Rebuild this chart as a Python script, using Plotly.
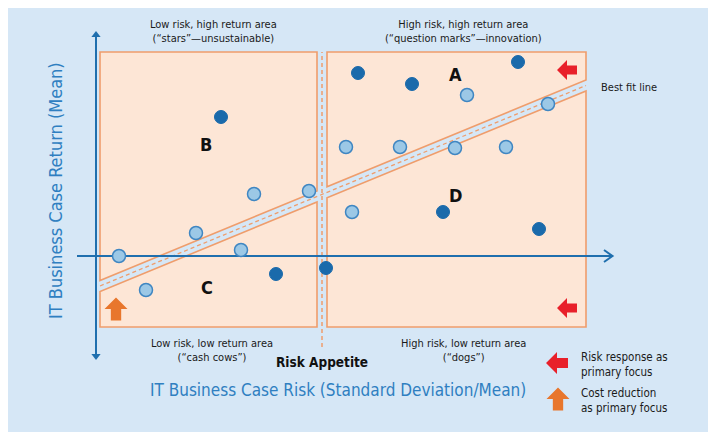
import plotly.graph_objects as go

# values; origin where the two axes cross
dark_risk = [125, 180, 230, 262, 316, 422, 347, 443]
dark_return = [139, -18, -12, 183, 172, 194, 44, 27]

light_risk = [158, 213, 100, 145, 23, 50, 371, 452, 250, 304, 359, 410, 256]
light_return = [62, 65, 23, 6, 0, -34, 161, 152, 109, 109, 108, 109, 44]

fit_risk = [4, 490]
fit_return = [-30, 170.5]

risk_appetite = 226

quadrant_labels = [
    "Low risk, high return area<br>(\u201cstars\u201d\u2014unsustainable)",
    "High risk, high return area<br>(\u201cquestion marks\u201d\u2014innovation)",
    "Low risk, low return area<br>(\u201ccash cows\u201d)",
    "High risk, low return area<br>(\u201cdogs\u201d)",
]
group_letters = ["A", "B", "C", "D"]
group_risk = [359, 110, 111, 359]
group_return = [182, 112, -31, 61]

legend_labels = ["Risk response as<br>primary focus", "Cost reduction<br>as primary focus"]

BG = "#d6e7f6"
PEACH = "#fde6d6"
ORANGE = "#ef9d6c"
AXIS_BLUE = "#1f6fae"
DARK = "#1a6aab"
LIGHT = "#9cc8e6"
LIGHT_EDGE = "#3f86c2"
RED = "#e8202a"
ARROW_ORANGE = "#e8762c"
TEXT = "#1a1a1a"
FONT = "Liberation Sans Narrow, DejaVu Sans Condensed, Roboto, sans-serif"

# panel extents (left panel, right panel) and half width of the best fit band
panel_x = [(4, 221), (231, 490)]
panel_bottom, panel_top = -71, 204
half = 5.5


def fit_at(x):
    slope = (fit_return[1] - fit_return[0]) / (fit_risk[1] - fit_risk[0])
    return fit_return[0] + slope * (x - fit_risk[0])


def poly(pts):
    return "M " + " L ".join(f"{x},{y}" for x, y in pts) + " Z"


def block_arrow(cx, cy, size, direction):
    # block arrow path pointing left or up
    h = size / 2
    pts = [(-h, 0), (0, h), (0, h * 0.45), (h, h * 0.45), (h, -h * 0.45), (0, -h * 0.45), (0, -h)]
    if direction == "up":
        pts = [(-y, -x) for x, y in pts]
    return poly([(cx + x, cy + y) for x, y in pts])


fig = go.Figure()

fig.add_trace(go.Scatter(x=fit_risk, y=fit_return, mode="lines",
                         line=dict(color=ORANGE, width=1.3, dash="4px,3px"), hoverinfo="skip"))

# axes
fig.add_trace(go.Scatter(x=[0, 0], y=[219, -98], mode="lines", line=dict(color=AXIS_BLUE, width=2), hoverinfo="skip"))
fig.add_trace(go.Scatter(x=[0, 0], y=[221, -100], mode="markers",
                         marker=dict(symbol=["triangle-up", "triangle-down"], size=8, color=AXIS_BLUE),
                         hoverinfo="skip"))
fig.add_trace(go.Scatter(x=[-19, 516], y=[0, 0], mode="lines", line=dict(color=AXIS_BLUE, width=2), hoverinfo="skip"))
fig.add_trace(go.Scatter(x=[508, 516.5, 508], y=[6, 0, -6], mode="lines",
                         line=dict(color=AXIS_BLUE, width=2), hoverinfo="skip"))

fig.add_trace(go.Scatter(x=light_risk, y=light_return, mode="markers",
                         marker=dict(size=13, color=LIGHT, line=dict(color=LIGHT_EDGE, width=1.5))))
fig.add_trace(go.Scatter(x=dark_risk, y=dark_return, mode="markers",
                         marker=dict(size=13, color=DARK, line=dict(color=DARK, width=1))))

shapes = [
    dict(type="rect", x0=-91, x1=616, y0=-176, y1=249, fillcolor=BG, line=dict(width=0), layer="below"),
    dict(type="line", x0=-91, x1=616, y0=251, y1=251, line=dict(color="#f6d9c4", width=2), layer="below"),
]
# each panel is split by the band into an upper and a lower piece
for x0, x1 in panel_x:
    upper = [(x0, fit_at(x0) + half), (x0, panel_top), (x1, panel_top), (x1, fit_at(x1) + half)]
    lower = [(x0, panel_bottom), (x0, fit_at(x0) - half), (x1, fit_at(x1) - half), (x1, panel_bottom)]
    for pts in (upper, lower):
        shapes.append(dict(type="path", path=poly(pts), fillcolor=PEACH,
                           line=dict(color=ORANGE, width=1.6), layer="below"))
shapes += [
    dict(type="line", x0=risk_appetite, x1=risk_appetite, y0=-91, y1=panel_top,
         line=dict(color=ORANGE, width=1.5, dash="4px,3px"), layer="below"),
    dict(type="path", path=block_arrow(471, 186, 20, "left"), fillcolor=RED, line=dict(width=0)),
    dict(type="path", path=block_arrow(471, -52, 20, "left"), fillcolor=RED, line=dict(width=0)),
    dict(type="path", path=block_arrow(461, -107, 22, "left"), fillcolor=RED, line=dict(width=0)),
    dict(type="path", path=block_arrow(20, -53, 23, "up"), fillcolor=ARROW_ORANGE, line=dict(width=0)),
    dict(type="path", path=block_arrow(462, -143, 23, "up"), fillcolor=ARROW_ORANGE, line=dict(width=0)),
]

label_pos = [(117, 225), (367, 225), (116, -94), (367, -94)]
annotations = []
for text, (x, y) in zip(quadrant_labels, label_pos):
    annotations.append(dict(x=x, y=y, text=text, showarrow=False, font=dict(family=FONT, size=11, color=TEXT)))
for letter, x, y in zip(group_letters, group_risk, group_return):
    annotations.append(dict(x=x, y=y, text=f"<b>{letter}</b>", showarrow=False, font=dict(family=FONT, size=18, color="#111111")))
annotations += [
    dict(x=risk_appetite, y=-106, text="<b>Risk Appetite</b>", showarrow=False, font=dict(family=FONT, size=13.5, color="#111111")),
    dict(x=503, y=169, text="Best fit line", xanchor="left", showarrow=False, font=dict(family=FONT, size=11, color=TEXT)),
    dict(x=242, y=-134, text="IT Business Case Risk (Standard Deviation/Mean)", showarrow=False,
         font=dict(family=FONT, size=17, color="#2f7fc1")),
    dict(x=-41, y=65, text="IT Business Case Return (Mean)", textangle=-90, showarrow=False,
         font=dict(family=FONT, size=18, color="#2f7fc1")),
    dict(x=483, y=-108, text=legend_labels[0], xanchor="left", align="left", showarrow=False,
         font=dict(family=FONT, size=11.5, color=TEXT)),
    dict(x=483, y=-144, text=legend_labels[1], xanchor="left", align="left", showarrow=False,
         font=dict(family=FONT, size=11.5, color=TEXT)),
]

# the page body has an 8px margin, so the figure is 8px smaller and the ranges start 8px in
fig.update_layout(
    width=708, height=428,
    margin=dict(l=0, r=0, t=0, b=0),
    paper_bgcolor="white", plot_bgcolor="white",
    showlegend=False,
    shapes=shapes, annotations=annotations,
    xaxis=dict(range=[-88, 620], visible=False, fixedrange=True),
    yaxis=dict(range=[-180, 248], visible=False, fixedrange=True),
)

fig.write_html("out.html")
